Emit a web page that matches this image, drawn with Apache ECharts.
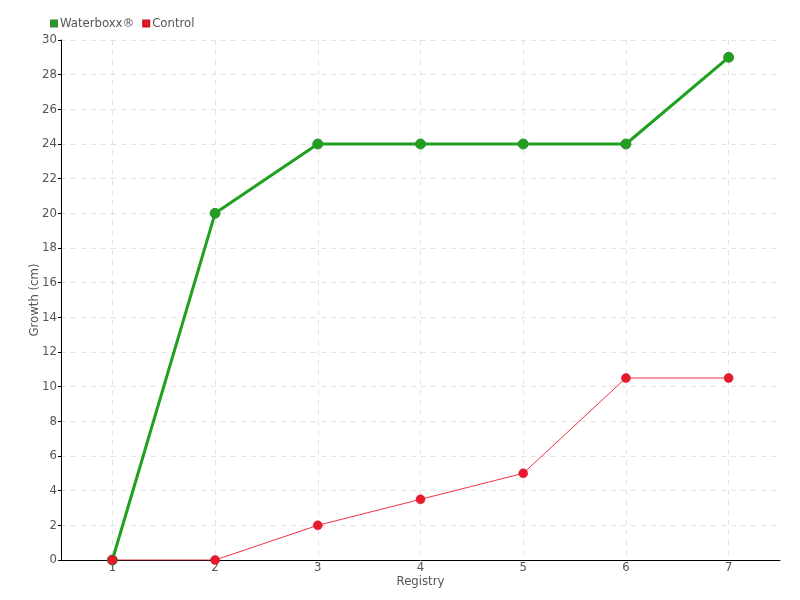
<!DOCTYPE html>
<html><head><meta charset="utf-8">
<script src="https://cdn.jsdelivr.net/npm/echarts@6/dist/echarts.min.js"></script>
<style>html,body{margin:0;padding:0;background:#fff}#c{width:800px;height:600px}</style>
</head><body><div id="c"></div>
<script>
const categories = ['1','2','3','4','5','6','7'];
const waterboxx = [0, 20, 24, 24, 24, 24, 29];
const control = [0, 0, 2, 3.5, 5, 10.5, 10.5];
const FONT = '"Liberation Sans Narrow", "DejaVu Sans Condensed", sans-serif';
const chart = echarts.init(document.getElementById('c'));
chart.setOption({
  animation: false,
  textStyle: {fontFamily: FONT},
  legend: {
    left: 45, top: 12, itemWidth: 6, itemHeight: 6, itemGap: 8, icon: 'rect',
    textStyle: {fontFamily: FONT, fontSize: 13, color: '#555', padding: [0,0,0,-2]},
    data: ['Waterboxx®', 'Control']
  },
  grid: {left: 61, right: 20, top: 40, bottom: 40},
  xAxis: {
    type: 'category', data: categories, boundaryGap: true,
    name: 'Registry', nameLocation: 'middle', nameGap: 15, nameMoveOverlap: false,
    nameTextStyle: {fontFamily: FONT, fontSize: 13, color: '#555'},
    axisLine: {lineStyle: {color: '#000'}},
    axisTick: {show: false, alignWithLabel: true},
    axisLabel: {fontFamily: FONT, fontSize: 13, color: '#555', margin: 1},
    splitLine: {show: true, interval: 0, alignWithLabel: true, lineStyle: {color: '#e3e3e3', type: [5, 5]}}
  },
  yAxis: {
    type: 'value', min: 0, max: 30, interval: 2,
    name: 'Growth (cm)', nameLocation: 'middle', nameGap: 20, nameMoveOverlap: false,
    nameTextStyle: {fontFamily: FONT, fontSize: 13, color: '#555'},
    axisLine: {show: true, lineStyle: {color: '#000'}},
    axisTick: {show: true, length: 3, lineStyle: {color: '#000'}},
    axisLabel: {fontFamily: FONT, fontSize: 13, color: '#555', margin: 4},
    splitLine: {lineStyle: {color: '#e3e3e3', type: [5, 5]}}
  },
  series: [
    {
      name: 'Waterboxx®', type: 'line', data: waterboxx,
      symbol: 'circle', symbolSize: 10,
      itemStyle: {color: '#1fa01f', borderColor: '#3a8a3a', borderWidth: 1},
      lineStyle: {color: '#1fa01f', width: 3}
    },
    {
      name: 'Control', type: 'line', data: control,
      symbol: 'circle', symbolSize: 9,
      itemStyle: {color: '#e8192c', borderColor: '#d01020', borderWidth: 0.5},
      lineStyle: {color: '#ee3345', width: 1}
    }
  ]
});
</script></body></html>
